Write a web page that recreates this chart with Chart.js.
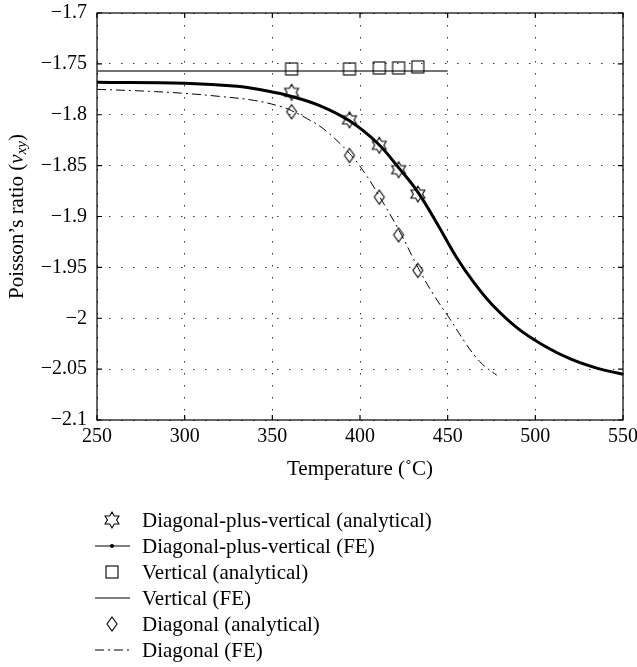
<!DOCTYPE html>
<html lang="en">
<head>
<meta charset="UTF-8">
<title>Poisson's ratio vs temperature</title>
<script src="https://cdn.jsdelivr.net/npm/chart.js"></script>
<style>
  body { margin: 0; background: #fff; overflow: hidden; }
</style>
</head>
<body>
<canvas id="myChart" width="637" height="667"></canvas>
<script>
// analytical points (same temperatures for the three cases)
const tempAnalytical = [361, 394, 411, 422, 433];
const nuDpvAnalytical = [-1.778, -1.805, -1.830, -1.854, -1.878];
const nuVertAnalytical = [-1.755, -1.755, -1.754, -1.754, -1.753];
const nuDiagAnalytical = [-1.797, -1.840, -1.881, -1.918, -1.953];

// FE curves
const tempDpvFE = [250, 300, 330, 345, 361, 377, 394, 410, 422, 433, 445, 455, 465, 475, 490, 505, 520, 535, 550];
const nuDpvFE = [-1.768, -1.769, -1.772, -1.776, -1.782, -1.791, -1.806, -1.828, -1.852, -1.876, -1.910, -1.940, -1.965, -1.986, -2.010, -2.027, -2.040, -2.049, -2.055];
const tempVertFE = [250, 450];
const nuVertFE = [-1.757, -1.757];
const tempDiagFE = [250, 280, 300, 320, 340, 355, 361, 370, 380, 394, 403, 411, 423, 433, 442, 451, 460, 466, 471, 478];
const nuDiagFE = [-1.775, -1.777, -1.779, -1.782, -1.786, -1.792, -1.796, -1.804, -1.815, -1.838, -1.858, -1.880, -1.916, -1.950, -1.977, -2.000, -2.024, -2.038, -2.047, -2.056];

const xTicks = [250, 300, 350, 400, 450, 500, 550];
const yTicks = [-1.7, -1.75, -1.8, -1.85, -1.9, -1.95, -2, -2.05, -2.1];

const legendOrder = [
  'Diagonal-plus-vertical (analytical)',
  'Diagonal-plus-vertical (FE)',
  'Vertical (analytical)',
  'Vertical (FE)',
  'Diagonal (analytical)',
  'Diagonal (FE)'
];

const FONT = '"Liberation Serif", "DejaVu Serif", serif';

function pts(xs, ys) {
  return xs.map((x, i) => ({ x: x, y: ys[i] }));
}

// marker images
function markerCanvas(size, draw) {
  const c = document.createElement('canvas');
  c.width = size; c.height = size;
  const g = c.getContext('2d');
  g.strokeStyle = '#000';
  g.lineWidth = 1.1;
  draw(g, size / 2);
  return c;
}
const starImg = markerCanvas(20, (g, m) => {
  const r = 8;
  g.beginPath();
  for (let k = 0; k < 12; k++) {
    const rr = k % 2 ? r / Math.sqrt(3) : r;
    const a = -Math.PI / 2 + k * Math.PI / 6;
    const px = m + rr * Math.cos(a), py = m + rr * Math.sin(a);
    if (k === 0) g.moveTo(px, py); else g.lineTo(px, py);
  }
  g.closePath();
  g.stroke();
});
const squareImg = markerCanvas(16, (g, m) => {
  g.strokeRect(m - 6, m - 6, 12, 12);
});
const diamondImg = markerCanvas(18, (g, m) => {
  g.beginPath();
  g.moveTo(m, m - 7); g.lineTo(m + 5, m); g.lineTo(m, m + 7); g.lineTo(m - 5, m);
  g.closePath();
  g.stroke();
});

const datasets = [
  { label: 'Diagonal-plus-vertical (analytical)', data: pts(tempAnalytical, nuDpvAnalytical),
    showLine: false, pointStyle: starImg },
  { label: 'Vertical (analytical)', data: pts(tempAnalytical, nuVertAnalytical),
    showLine: false, pointStyle: squareImg },
  { label: 'Diagonal (analytical)', data: pts(tempAnalytical, nuDiagAnalytical),
    showLine: false, pointStyle: diamondImg },
  { label: 'Diagonal-plus-vertical (FE)', data: pts(tempDpvFE, nuDpvFE),
    showLine: true, borderColor: '#000', borderWidth: 3, pointRadius: 0,
    tension: 0.4, legendDot: true },
  { label: 'Vertical (FE)', data: pts(tempVertFE, nuVertFE),
    showLine: true, borderColor: '#444', borderWidth: 1.6, pointRadius: 0 },
  { label: 'Diagonal (FE)', data: pts(tempDiagFE, nuDiagFE),
    showLine: true, borderColor: '#000', borderWidth: 1, borderDash: [9, 4, 2, 4], pointRadius: 0,
    tension: 0.4 }
];

// box around the plot with inward tick marks
const framePlugin = {
  id: 'frame',
  beforeDatasetsDraw(chart) {
    const { ctx, chartArea: a, scales } = chart;
    ctx.save();
    ctx.strokeStyle = '#000';
    ctx.lineWidth = 1.2;
    ctx.strokeRect(a.left, a.top, a.right - a.left, a.bottom - a.top);
    ctx.beginPath();
    xTicks.forEach(v => {
      const px = scales.x.getPixelForValue(v);
      ctx.moveTo(px, a.bottom); ctx.lineTo(px, a.bottom - 5);
      ctx.moveTo(px, a.top); ctx.lineTo(px, a.top + 5);
    });
    yTicks.forEach(v => {
      const py = scales.y.getPixelForValue(v);
      ctx.moveTo(a.left, py); ctx.lineTo(a.left + 5, py);
      ctx.moveTo(a.right, py); ctx.lineTo(a.right - 5, py);
    });
    ctx.stroke();
    ctx.restore();
  }
};

// y axis title with italic nu and subscript xy
const yTitlePlugin = {
  id: 'yTitle',
  afterDraw(chart) {
    const { ctx, chartArea: a } = chart;
    const parts = [
      { t: 'Poisson\u2019s ratio (', f: '21px ' + FONT, dy: 0 },
      { t: '\u03bd', f: 'italic 21px ' + FONT, dy: 0 },
      { t: 'xy', f: 'italic 15px ' + FONT, dy: 5 },
      { t: ')', f: '21px ' + FONT, dy: 0 }
    ];
    ctx.save();
    ctx.translate(17, (a.top + a.bottom) / 2);
    ctx.rotate(-Math.PI / 2);
    ctx.fillStyle = '#000';
    ctx.textBaseline = 'middle';
    let total = 0;
    parts.forEach(p => { ctx.font = p.f; p.w = ctx.measureText(p.t).width; total += p.w; });
    let x = -total / 2;
    parts.forEach(p => {
      ctx.font = p.f;
      ctx.fillText(p.t, x, p.dy);
      x += p.w;
    });
    ctx.restore();
  }
};

// legend listed one entry per row under the axis title
const legendPlugin = {
  id: 'listLegend',
  afterDraw(chart) {
    const ctx = chart.ctx;
    const x0 = 95, x1 = 130, xm = 112, xt = 142, y0 = 520, dy = 26;
    ctx.save();
    ctx.font = '21px ' + FONT;
    ctx.textBaseline = 'middle';
    legendOrder.forEach((label, i) => {
      const ds = chart.data.datasets.find(d => d.label === label);
      const y = y0 + i * dy;
      if (ds.showLine) {
        ctx.strokeStyle = '#000';
        ctx.lineWidth = 1.2;
        ctx.setLineDash(ds.borderDash || []);
        ctx.beginPath();
        ctx.moveTo(x0, y); ctx.lineTo(x1, y);
        ctx.stroke();
        ctx.setLineDash([]);
        if (ds.legendDot) {
          ctx.fillStyle = '#000';
          ctx.beginPath();
          ctx.arc(xm, y, 2, 0, Math.PI * 2);
          ctx.fill();
        }
      } else {
        const img = ds.pointStyle;
        ctx.drawImage(img, xm - img.width / 2, y - img.height / 2);
      }
      ctx.fillStyle = '#000';
      ctx.fillText(label, xt, y + 1);
    });
    ctx.restore();
  }
};

const minus = v => String(Math.round(v * 100) / 100).replace('-', '\u2212');

new Chart(document.getElementById('myChart').getContext('2d'), {
  type: 'scatter',
  data: { datasets: datasets },
  options: {
    responsive: false,
    animation: false,
    layout: { padding: { left: 0, top: 13, right: 14, bottom: 181 } },
    plugins: {
      legend: { display: false },
      tooltip: { enabled: false }
    },
    scales: {
      x: {
        type: 'linear',
        min: 250,
        max: 550,
        afterBuildTicks: s => { s.ticks = xTicks.map(v => ({ value: v })); },
        afterFit: s => { s.height = 66; s.paddingLeft = 0; s.paddingRight = 0; },
        grid: { color: '#333', lineWidth: 1, drawTicks: false },
        border: { display: false, dash: [1.5, 10.5] },
        ticks: { color: '#000', padding: 5, maxRotation: 0, font: { family: FONT, size: 20 } },
        title: {
          display: true,
          text: 'Temperature (\u02daC)',
          color: '#000',
          padding: { top: 0, bottom: 4 },
          font: { family: FONT, size: 21 }
        }
      },
      y: {
        type: 'linear',
        min: -2.1,
        max: -1.7,
        afterBuildTicks: s => { s.ticks = yTicks.map(v => ({ value: v })); },
        afterFit: s => { s.width = 97; s.paddingTop = 0; s.paddingBottom = 0; },
        grid: { color: '#333', lineWidth: 1, drawTicks: false },
        border: { display: false, dash: [1.5, 10.5] },
        ticks: { color: '#000', padding: 10, callback: v => minus(v), font: { family: FONT, size: 20 } }
      }
    }
  },
  plugins: [framePlugin, yTitlePlugin, legendPlugin]
});
</script>
</body>
</html>
